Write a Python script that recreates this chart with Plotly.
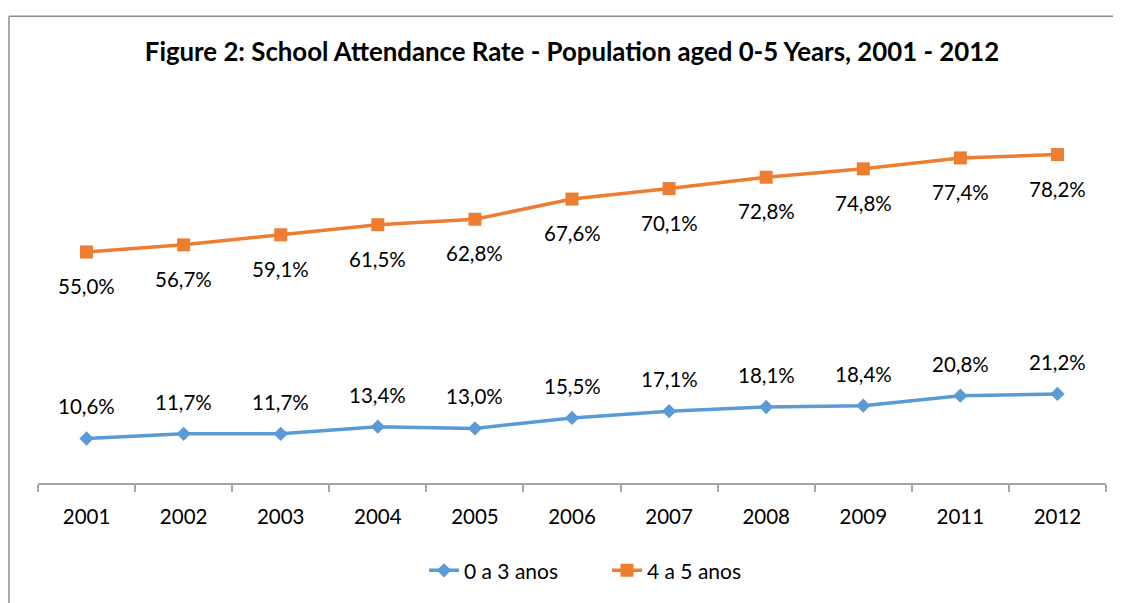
import plotly.graph_objects as go

years = ["2001", "2002", "2003", "2004", "2005", "2006", "2007", "2008", "2009", "2011", "2012"]
age_0_3 = [10.6, 11.7, 11.7, 13.4, 13.0, 15.5, 17.1, 18.1, 18.4, 20.8, 21.2]
age_4_5 = [55.0, 56.7, 59.1, 61.5, 62.8, 67.6, 70.1, 72.8, 74.8, 77.4, 78.2]
series_names = ["0 a 3 anos", "4 a 5 anos"]
title_text = "Figure 2: School Attendance Rate - Population aged 0-5 Years, 2001 - 2012"

BLUE = "#5B9BD5"
ORANGE = "#ED7D31"
FONT = "Lato"

# figure coordinates
W, H = 1113, 595
L, R = 30, 1098          # plot area left/right
TOP, AX = 97, 485        # plot area top / axis line


def fmt(v):
    return f"{v:.1f}%".replace(".", ",")


fig = go.Figure()
fig.add_trace(go.Scatter(
    x=years, y=age_0_3, name=series_names[0], mode="lines+markers",
    line=dict(color=BLUE, width=3.5),
    marker=dict(symbol="diamond", size=11, color=BLUE),
))
fig.add_trace(go.Scatter(
    x=years, y=age_4_5, name=series_names[1], mode="lines+markers",
    line=dict(color=ORANGE, width=3.5),
    marker=dict(symbol="square", size=13, color=ORANGE),
))

annotations = []
for i, v in enumerate(age_0_3):
    annotations.append(dict(x=i, y=v, xref="x", yref="y", text=fmt(v), showarrow=False,
                            yshift=32, font=dict(family=FONT, size=20.5, color="#000")))
for i, v in enumerate(age_4_5):
    annotations.append(dict(x=i, y=v, xref="x", yref="y", text=fmt(v), showarrow=False,
                            yshift=-34, font=dict(family=FONT, size=20.5, color="#000")))

ph = AX - TOP
pw = R - L
bx = (1 - L) / pw
by = (AX - 6) / ph
shapes = [
    dict(type="line", xref="paper", yref="paper", x0=bx, x1=bx, y0=-0.4, y1=by,
         line=dict(color="#8c8c8c", width=1.5)),
    dict(type="line", xref="paper", yref="paper", x0=bx, x1=1.1, y0=by, y1=by,
         line=dict(color="#8c8c8c", width=1.5)),
]

fig.update_layout(
    width=W, height=H,
    margin=dict(l=L, r=W - R, t=TOP, b=H - AX),
    paper_bgcolor="white", plot_bgcolor="white",
    font=dict(family=FONT, size=20, color="#000"),
    title=dict(text=f"<b>{title_text}</b>", x=0.5, xanchor="center", xref="paper",
               y=1 - 44 / H, yanchor="middle", yref="container",
               font=dict(family=FONT, size=25.8, color="#000")),
    xaxis=dict(type="category", range=[-0.5, len(years) - 0.5], autorange=False,
               showline=True, linecolor="#a6a6a6", linewidth=1.5,
               ticks="outside", tickson="boundaries", ticklen=7, tickcolor="#a6a6a6",
               tickwidth=1.5, showgrid=False, zeroline=False, tickangle=0,
               ticklabelstandoff=15,
               tickfont=dict(family=FONT, size=20.5, color="#000")),
    yaxis=dict(range=[0, 90], autorange=False, visible=False, showgrid=False, zeroline=False),
    legend=dict(orientation="h", x=0.5 + 35 / pw, xanchor="center", y=(AX - 575) / ph,
                yanchor="middle",
                font=dict(family=FONT, size=21, color="#000"), entrywidth=138,
                entrywidthmode="pixels"),
    showlegend=True,
    annotations=annotations,
    shapes=shapes,
)

fig.write_html("out.html")
